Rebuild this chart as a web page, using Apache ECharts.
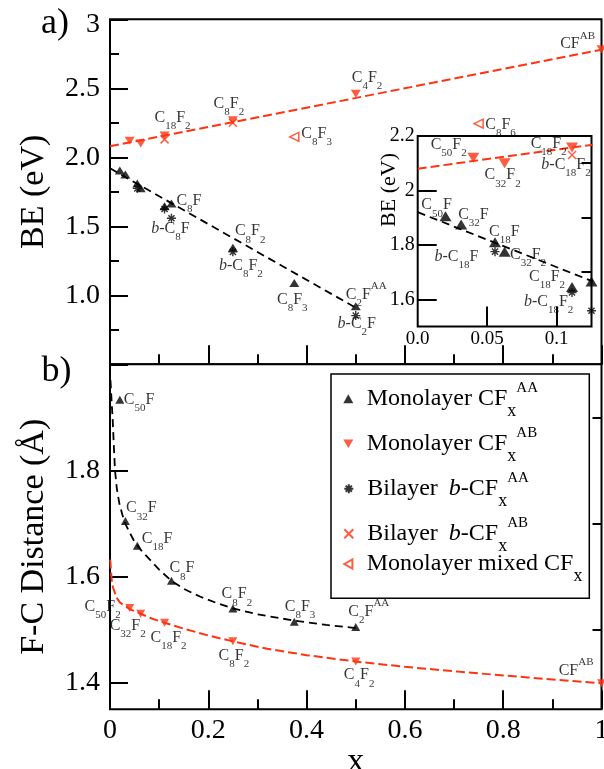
<!DOCTYPE html>
<html><head><meta charset="utf-8">
<script src="https://cdn.jsdelivr.net/npm/echarts@6.0.0/dist/echarts.min.js"></script>
<style>html,body{margin:0;padding:0;background:#fff}#c{width:604px;height:769px}</style>
</head><body><div id="c"></div><script>
// ---------- DATA (panel a: binding energy) ----------
const xMonoAA = [0.02, 0.03125, 0.0556, 0.0625, 0.111, 0.125, 0.25, 0.375, 0.5];
const beMonoAA = [1.905, 1.875, 1.81, 1.775, 1.645, 1.665, 1.345, 1.09, 0.92];
const nmMonoAA = ['C_{50}F','C_{32}F','C_{18}F','C_{32}F_{2}','C_{18}F_{2}','C_{8}F','C_{8}F_{2}','C_{8}F_{3}','C_{2}F^{AA}'];

const xMonoAB = [0.04, 0.0625, 0.111, 0.25, 0.5, 1.0];
const beMonoAB = [2.12, 2.10, 2.158, 2.268, 2.46, 2.783];
const nmMonoAB = ['C_{50}F_{2}','C_{32}F_{2}','C_{18}F_{2}','C_{8}F_{2}','C_{4}F_{2}','CF^{AB}'];

const xBiAA = [0.0556, 0.111, 0.125, 0.25, 0.5];
const beBiAA = [1.775, 1.625, 1.558, 1.315, 0.853];
const nmBiAA = ['b-C_{18}F','b-C_{18}F_{2}','b-C_{8}F','b-C_{8}F_{2}','b-C_{2}F'];

const xBiAB = [0.111, 0.25];
const beBiAB = [2.13, 2.25];
const nmBiAB = ['b-C_{18}F_{2}','b-C_{8}F_{2}'];

const xMix = [0.375, 0.75];
const beMix = [2.148, 2.244];
const nmMix = ['C_{8}F_{3}','C_{8}F_{6}'];

const fitAB_x = [0, 1];      const fitAB_be = [2.08, 2.78];
const fitAA_x = [0, 0.5];    const fitAA_be = [1.92, 0.91];

// ---------- DATA (panel b: F-C distance) ----------
const xDistAA = [0.02, 0.03125, 0.0556, 0.125, 0.25, 0.375, 0.5];
const dDistAA = [1.933, 1.705, 1.658, 1.592, 1.54, 1.515, 1.505];
const nmDistAA = ['C_{50}F','C_{32}F','C_{18}F','C_{8}F','C_{8}F_{2}','C_{8}F_{3}','C_{2}F^{AA}'];
const xDistAB = [0.04, 0.0625, 0.111, 0.25, 0.5, 1.0];
const dDistAB = [1.541, 1.530, 1.513, 1.478, 1.44, 1.399];
const nmDistAB = ['C_{50}F_{2}','C_{32}F_{2}','C_{18}F_{2}','C_{8}F_{2}','C_{4}F_{2}','CF^{AB}'];

const curveAA_x = [0.001, 0.003, 0.0055, 0.008, 0.0102, 0.014, 0.019, 0.025, 0.031, 0.04, 0.048, 0.062, 0.082, 0.1, 0.125, 0.15, 0.184, 0.215, 0.25, 0.3, 0.375, 0.44, 0.5];
const curveAA_d = [1.97, 1.935, 1.895, 1.842, 1.80, 1.765, 1.738, 1.717, 1.70, 1.683, 1.669, 1.651, 1.631, 1.613, 1.592, 1.577, 1.562, 1.551, 1.54, 1.529, 1.517, 1.509, 1.503];
const curveAB_x = [0.0005, 0.002, 0.0035, 0.006, 0.0102, 0.015, 0.0204, 0.03, 0.04, 0.0625, 0.085, 0.111, 0.15, 0.2, 0.25, 0.32, 0.4, 0.5, 0.6, 0.7075, 0.85, 1.0];
const curveAB_d = [1.632, 1.61, 1.594, 1.58, 1.569, 1.558, 1.551, 1.545, 1.539, 1.53, 1.521, 1.513, 1.502, 1.489, 1.478, 1.464, 1.452, 1.44, 1.43, 1.421, 1.41, 1.399];

// ---------- TICK LABELS ----------
const xTicks = [0, 0.2, 0.4, 0.6, 0.8, 1];
const beTicks = [1.0, 1.5, 2.0, 2.5, 3];
const dTicks = [1.4, 1.6, 1.8];
const insetYTicks = [1.6, 1.8, 2.0, 2.2];
const insetXTicks = [0, 0.05, 0.1];

const seriesNames = ['Monolayer CFx AA','Monolayer CFx AB','Bilayer b-CFx AA','Bilayer b-CFx AB','Monolayer mixed CFx'];
const legendTexts = ['{m|Monolayer CF}{s|x}{p|AA}','{m|Monolayer CF}{s|x}{p|AB}','{m|Bilayer}{i|b}{n|-CF}{s|x}{p|AA}','{m|Bilayer}{i|b}{n|-CF}{s|x}{p|AB}','{m|Monolayer mixed CF}{s|x}'];

// ---------- STYLE / LAYOUT ----------
const FONT = '"Liberation Serif", "Times New Roman", serif';
const RED = '#ff3311';
const SYM_DOWN = 'path://M0,0L10,0L5,8.5Z';
const SYM_LEFT = 'path://M0,5L9,0L9,10Z';
const SYM_STAR = 'path://M5,0L5,10M0,5L10,5M1.6,1.6L8.4,8.4M8.4,1.6L1.6,8.4';
const SYM_X = 'path://M0,0L10,10M10,0L0,10';

// label placements: index -> [align, dx, dy]
const placeA = {
  AB: {2:['c',8,-18], 3:['c',-4,-16.5], 4:['l',-4,-16.4], 5:['r',-6.5,-5]},
  Mix: {0:['l',7,-3], 1:['l',6.6,1]},
  AA: {5:['l',5,-3], 6:['l',2,-16.5], 7:['c',-2,17], 8:['l',-10,-12]},
  BiAA: {2:['c',-1,10.5], 3:['c',8,14], 4:['c',1,8]},
  BiAB: {}
};
const placeI = {
  AB: {0:['r',-6.6,-12.8], 1:['c',-2,12], 2:['r',-5.3,-4]},
  BiAB: {0:['c',-6,10]},
  AA: {0:['c',-9,-11], 1:['l',-3,-9.5], 2:['l',-6,-10.5], 3:['l',5.4,3.4], 4:['r',-7,-10]},
  BiAA: {0:['r',-16.7,5], 1:['r',1.3,9]}
};
const placeB = {
  AA: {0:['l',4,0], 1:['l',0.6,-12.6], 2:['l',4.4,-7.3], 3:['l',-2,-12.6], 4:['c',4,-14.3], 5:['c',5.7,-14.8], 6:['l',-7.4,-15]},
  AB: {0:['r',-9,-1.4], 1:['c',-13,12], 2:['c',4,15], 3:['c',1,14.6], 4:['c',3.4,13.6], 5:['r',-8,-12.3]}
};

function rt(s) {
  return s.replace(/_\{([^}]*)\}/g, '{s|$1}').replace(/\^\{([^}]*)\}/g, '{p|$1}').replace(/^b-/, '{i|b}-');
}
function pts(xs, ys) { return xs.map((x, i) => [x, ys[i]]); }
function labeled(xs, ys, names, place, keep) {
  const out = [];
  xs.forEach((x, i) => {
    if (keep && !keep(x)) return;
    const item = {value: [x, ys[i]]};
    const p = place && place[i];
    if (p) item.label = {show: true, formatter: rt(names[i]), align: {l:'left', c:'center', r:'right'}[p[0]], offset: [p[1], p[2]]};
    out.push(item);
  });
  return out;
}
const inInset = x => x <= 0.1251;

const labelBase = {
  show: false, position: 'inside', verticalAlign: 'middle',
  fontFamily: FONT, fontSize: 16, color: '#000', lineHeight: 28,
  rich: {
    s: {fontFamily: FONT, fontSize: 11, color: '#000', verticalAlign: 'bottom'},
    p: {fontFamily: FONT, fontSize: 11, color: '#000', verticalAlign: 'top'},
    i: {fontFamily: FONT, fontSize: 16, color: '#000', fontStyle: 'italic'}
  }
};

function scatter(name, xi, yi, data, kind, size, z) {
  const st = {
    AA: {symbol: 'triangle', itemStyle: {color: '#000'}},
    AB: {symbol: SYM_DOWN, itemStyle: {color: RED}},
    BiAA: {symbol: SYM_STAR, itemStyle: {color: 'rgba(0,0,0,0)', borderColor: '#000', borderWidth: 1.4}},
    BiAB: {symbol: SYM_X, itemStyle: {color: 'rgba(0,0,0,0)', borderColor: RED, borderWidth: 1.5}},
    Mix: {symbol: SYM_LEFT, itemStyle: {color: '#fff', borderColor: RED, borderWidth: 1.5}}
  }[kind];
  return Object.assign({
    type: 'scatter', name, xAxisIndex: xi, yAxisIndex: yi, data, symbolSize: size,
    label: labelBase, emphasis: {disabled: true}, z: z || 3, animation: false
  }, st);
}
function line(name, xi, yi, data, color, width, dash) {
  return {type: 'line', name, xAxisIndex: xi, yAxisIndex: yi, data, symbol: 'none', showSymbol: false,
    smooth: false, clip: true,
    lineStyle: {color, width, type: dash}, emphasis: {disabled: true}, z: 2, animation: false};
}

const tickStyle = {color: '#000', width: 2};
const axisLabelFont = {fontFamily: FONT, color: '#000'};
const fmt1 = v => String(Math.round(v * 10) / 10);
const gridBase = {show: true, borderColor: '#000', borderWidth: 2, backgroundColor: '#fff', containLabel: false, outerBoundsMode: 'none'};

const option = {
  animation: false,
  backgroundColor: '#fff',
  textStyle: {fontFamily: FONT},
  grid: [
    Object.assign({left: 110, top: 19.3, width: 491.5, height: 345}, gridBase),
    Object.assign({left: 110, top: 364.3, width: 491.5, height: 345}, gridBase),
    Object.assign({left: 417.7, top: 136, width: 173.8, height: 190.5}, gridBase)
  ],
  xAxis: [
    {gridIndex: 0, type: 'value', min: 0, max: 1, interval: 0.2,
      axisLine: {show: false}, splitLine: {show: false}, axisLabel: {show: false},
      axisTick: {inside: true, length: 19, lineStyle: tickStyle},
      minorTick: {show: true, splitNumber: 2, length: 10, lineStyle: tickStyle}},
    {gridIndex: 1, type: 'value', min: 0, max: 1, interval: 0.2,
      axisLine: {show: false}, splitLine: {show: false},
      axisLabel: Object.assign({fontSize: 28, margin: 7, formatter: v => xTicks.some(t => Math.abs(t - v) < 1e-9) ? fmt1(v) : ''}, axisLabelFont),
      axisTick: {inside: true, length: 19, lineStyle: tickStyle},
      minorTick: {show: true, splitNumber: 2, length: 10, lineStyle: tickStyle},
      name: 'x', nameLocation: 'middle', nameGap: 27, nameTextStyle: {fontFamily: FONT, fontSize: 34, color: '#000'}},
    {gridIndex: 2, type: 'value', min: 0, max: 0.125,
      axisLine: {show: false}, splitLine: {show: false},
      axisLabel: Object.assign({fontSize: 19, margin: 3, customValues: insetXTicks, formatter: v => v === 0 ? '0.0' : String(v)}, axisLabelFont),
      axisTick: {inside: true, length: 20, lineStyle: tickStyle, customValues: [0.05, 0.1]}}
  ],
  yAxis: [
    {gridIndex: 0, type: 'value', min: 0.5, max: 3, interval: 0.5,
      axisLine: {show: false}, splitLine: {show: false},
      axisLabel: Object.assign({fontSize: 28, margin: 10,
        formatter: v => beTicks.some(t => Math.abs(t - v) < 1e-9) ? (v === 3 ? '{e| }\n{t|3}' : v.toFixed(1)) : '',
        rich: {e: {fontFamily: FONT, fontSize: 8, lineHeight: 10}, t: {fontFamily: FONT, fontSize: 28, color: '#000', lineHeight: 28}}}, axisLabelFont),
      axisTick: {inside: true, length: 18, lineStyle: tickStyle},
      minorTick: {show: true, splitNumber: 2, length: 9, lineStyle: tickStyle},
      name: 'BE (eV)', nameLocation: 'middle', nameGap: 59, nameTextStyle: {fontFamily: FONT, fontSize: 34, color: '#000'}},
    {gridIndex: 1, type: 'value', min: 1.35, max: 2.0,
      axisLine: {show: false}, splitLine: {show: false},
      axisLabel: Object.assign({fontSize: 28, margin: 10, customValues: dTicks, formatter: v => v.toFixed(1)}, axisLabelFont),
      axisTick: {inside: true, length: 18, lineStyle: tickStyle, customValues: [1.4, 1.6, 1.8, 2.0]},
      name: 'F-C Distance (Å)', nameLocation: 'middle', nameGap: 59, nameTextStyle: {fontFamily: FONT, fontSize: 34, color: '#000'}},
    {gridIndex: 1, type: 'value', min: 1.35, max: 2.0,
      axisLine: {show: false}, splitLine: {show: false}, axisLabel: {show: false},
      axisTick: {inside: true, length: 9, lineStyle: tickStyle, customValues: [1.5, 1.7, 1.9]}},
    {gridIndex: 2, type: 'value', min: 1.5, max: 2.2,
      axisLine: {show: false}, splitLine: {show: false},
      axisLabel: Object.assign({fontSize: 20, margin: 3, customValues: insetYTicks, formatter: v => String(Math.round(v * 10) / 10)}, axisLabelFont),
      axisTick: {inside: true, length: 19, lineStyle: tickStyle, customValues: insetYTicks}},
    {gridIndex: 2, type: 'value', min: 1.5, max: 2.2,
      axisLine: {show: false}, splitLine: {show: false}, axisLabel: {show: false},
      axisTick: {inside: true, length: 10, lineStyle: tickStyle, customValues: [1.7, 1.9, 2.1]}}
  ],
  legend: legendTexts.map((t, k) => ({
    data: [seriesNames[k]], selectedMode: false, orient: 'vertical',
    left: 343.3, top: [401.7, 446.7, 491.7, 536.7, 573.5][k] - 21.5,
    padding: 0, itemGap: 0, itemWidth: 10, itemHeight: 9,
    formatter: () => t, z: 5,
    textStyle: {fontFamily: FONT, fontSize: 24, color: '#000',
      rich: {
        m: {fontFamily: FONT, fontSize: 24, color: '#000', lineHeight: 43, padding: [0, 0, 0, 8.4]},
        n: {fontFamily: FONT, fontSize: 24, color: '#000', lineHeight: 43},
        i: {fontFamily: FONT, fontSize: 24, color: '#000', lineHeight: 43, fontStyle: 'italic', padding: [0, 0, 0, 11]},
        s: {fontFamily: FONT, fontSize: 18, color: '#000', verticalAlign: 'bottom'},
        p: {fontFamily: FONT, fontSize: 15, color: '#000', verticalAlign: 'top', padding: [3, 0, 0, 0]}
      }}
  })),
  graphic: [
    {type: 'rect', z: 1, shape: {x: 331, y: 374, width: 258.3, height: 224.3}, style: {fill: '#fff', stroke: '#000', lineWidth: 1.5}},
    {type: 'text', x: 41, y: 24, z: 5, style: {text: 'a)', font: '36px "Liberation Serif", serif', fill: '#000', textAlign: 'left', textVerticalAlign: 'middle'}},
    {type: 'text', x: 41.5, y: 372, z: 5, style: {text: 'b)', font: '36px "Liberation Serif", serif', fill: '#000', textAlign: 'left', textVerticalAlign: 'middle'}},
    {type: 'text', x: 389, y: 190, rotation: Math.PI / 2, z: 5, style: {text: 'BE (eV)', font: '22px "Liberation Serif", serif', fill: '#000', textAlign: 'center', textVerticalAlign: 'middle'}}
  ],
  series: [
    // panel a
    line('fitAB', 0, 0, pts(fitAB_x, fitAB_be), RED, 2, [9, 4]),
    line('fitAA', 0, 0, pts(fitAA_x, fitAA_be), '#000', 1.8, [8, 5]),
    scatter(seriesNames[0], 0, 0, labeled(xMonoAA, beMonoAA, nmMonoAA, placeA.AA), 'AA', [10, 8]),
    scatter(seriesNames[1], 0, 0, labeled(xMonoAB, beMonoAB, nmMonoAB, placeA.AB), 'AB', [10, 8]),
    scatter(seriesNames[2], 0, 0, labeled(xBiAA, beBiAA, nmBiAA, placeA.BiAA), 'BiAA', 9, 4),
    scatter(seriesNames[3], 0, 0, labeled(xBiAB, beBiAB, nmBiAB, placeA.BiAB), 'BiAB', 8, 4),
    scatter(seriesNames[4], 0, 0, labeled(xMix, beMix, nmMix, placeA.Mix), 'Mix', 9),
    // inset
    line('fitAB_i', 2, 3, pts(fitAB_x, fitAB_be), RED, 2, [9, 4]),
    line('fitAA_i', 2, 3, pts(fitAA_x, fitAA_be), '#000', 1.8, [8, 5]),
    scatter(seriesNames[0], 2, 3, labeled(xMonoAA, beMonoAA, nmMonoAA, placeI.AA, inInset), 'AA', [12, 10]),
    scatter(seriesNames[1], 2, 3, labeled(xMonoAB, beMonoAB, nmMonoAB, placeI.AB, inInset), 'AB', [12, 10]),
    scatter(seriesNames[2], 2, 3, labeled(xBiAA, beBiAA, nmBiAA, placeI.BiAA, inInset), 'BiAA', 9, 4),
    scatter(seriesNames[3], 2, 3, labeled(xBiAB, beBiAB, nmBiAB, placeI.BiAB, inInset), 'BiAB', 8, 4),
    // panel b
    line('curveAA', 1, 1, pts(curveAA_x, curveAA_d), '#000', 1.8, [8, 5]),
    line('curveAB', 1, 1, pts(curveAB_x, curveAB_d), RED, 2, [9, 4]),
    scatter(seriesNames[0], 1, 1, labeled(xDistAA, dDistAA, nmDistAA, placeB.AA), 'AA', [9, 8]),
    scatter(seriesNames[1], 1, 1, labeled(xDistAB, dDistAB, nmDistAB, placeB.AB), 'AB', [9, 8])
  ]
};

const chart = echarts.init(document.getElementById('c'), null, {renderer: 'canvas', width: 604, height: 769});
chart.setOption(option);
</script></body></html>
